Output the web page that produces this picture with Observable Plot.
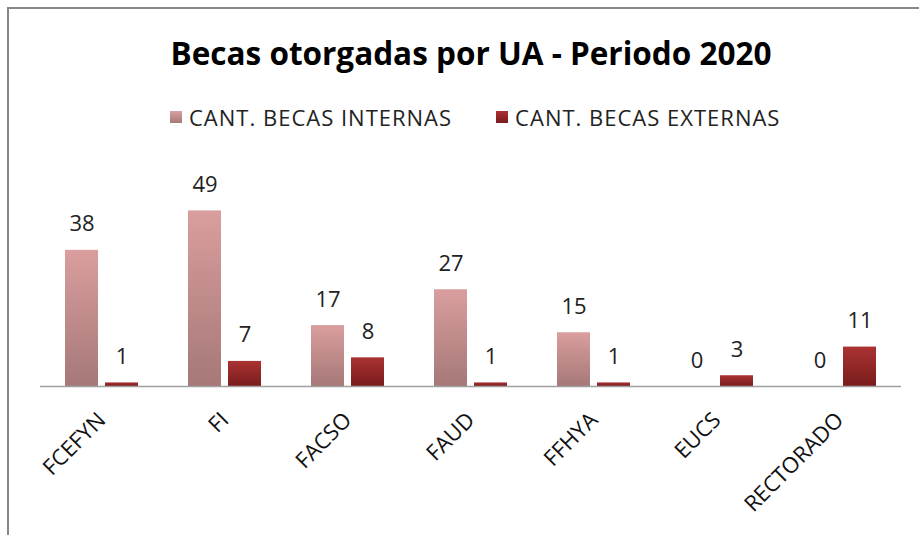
<!DOCTYPE html>
<html>
<head>
<meta charset="utf-8">
<script src="https://cdn.jsdelivr.net/npm/d3@7"></script>
<script src="https://cdn.jsdelivr.net/npm/@observablehq/plot@0.6"></script>
<style>
  body { margin:0; width:919px; height:535px; overflow:hidden; background:#fff; position:relative; font-family:"Open Sans", sans-serif; }
  #frame { position:absolute; left:7px; top:7px; width:1000px; height:1000px; border:2px solid #888; box-sizing:border-box; }
  #title { position:absolute; left:0; width:942px; top:33px; text-align:center; font-weight:bold; font-size:31.5px; color:#000; line-height:40px; }
  #legend { position:absolute; left:170px; top:103px; display:flex; align-items:center; font-size:22px; letter-spacing:1px; color:#222; line-height:28px; }
  .item { display:flex; align-items:center; }
  .sw { width:12px; height:12px; margin-right:7px; }
  #chart { position:absolute; left:0; top:140px; }
</style>
</head>
<body>
<svg width="0" height="0" style="position:absolute">
  <defs>
    <linearGradient id="gi" x1="0" y1="0" x2="0" y2="1">
      <stop offset="0" stop-color="#da9e9e"/>
      <stop offset="1" stop-color="#a67878"/>
    </linearGradient>
    <linearGradient id="ge" x1="0" y1="0" x2="0" y2="1">
      <stop offset="0" stop-color="#aa3232"/>
      <stop offset="1" stop-color="#7a1c1c"/>
    </linearGradient>
  </defs>
</svg>
<div id="frame"></div>
<div id="title">Becas otorgadas por UA - Periodo 2020</div>
<div id="legend"></div>
<div id="chart"></div>
<script>
const categories = ["FCEFYN", "FI", "FACSO", "FAUD", "FFHYA", "EUCS", "RECTORADO"];
const seriesNames = ["CANT. BECAS INTERNAS", "CANT. BECAS EXTERNAS"];
const internas = [38, 49, 17, 27, 15, 0, 0];
const externas = [1, 7, 8, 1, 1, 3, 11];
const seriesFills = ["url(#gi)", "url(#ge)"];

const data = [];
categories.forEach((c, i) => {
  data.push({cat: c, series: seriesNames[0], value: internas[i]});
  data.push({cat: c, series: seriesNames[1], value: externas[i]});
});

const legend = document.getElementById("legend");
seriesNames.forEach((s, i) => {
  const it = document.createElement("div");
  it.className = "item";
  if (i > 0) it.style.marginLeft = "44px";
  const sw = document.createElement("div");
  sw.className = "sw";
  sw.style.background = i === 0 ? "linear-gradient(#da9e9e,#a67878)" : "linear-gradient(#aa3232,#7a1c1c)";
  const t = document.createElement("span");
  t.textContent = s;
  it.appendChild(sw); it.appendChild(t);
  legend.appendChild(it);
});

const chart = Plot.plot({
  width: 919,
  height: 395,
  marginTop: 31,
  marginBottom: 149,
  marginLeft: 37,
  marginRight: 16,
  style: {fontFamily: "Open Sans, sans-serif", background: "transparent", overflow: "visible"},
  fx: {domain: categories, padding: 0, label: null, axis: null},
  x: {domain: seriesNames, paddingInner: 0.17, paddingOuter: 0.59, axis: null},
  y: {domain: [0, 60], axis: null},
  color: {domain: seriesNames, range: seriesFills},
  marks: [
    Plot.barY(data, {fx: "cat", x: "series", y: "value", fill: "series"}),
    Plot.ruleY([0], {stroke: "#a0a0a0", strokeWidth: 1.5}),
    Plot.text(data, {fx: "cat", x: "series", y: "value", text: d => String(d.value), dy: -26, fontSize: 22, fill: "#222"}),
    Plot.axisFx({anchor: "bottom", tickRotate: -45, tickSize: 0, tickPadding: 30, fontSize: 22, label: null, dx: 0, fill: "#111"})
  ]
});
document.getElementById("chart").appendChild(chart);
</script>
</body>
</html>
